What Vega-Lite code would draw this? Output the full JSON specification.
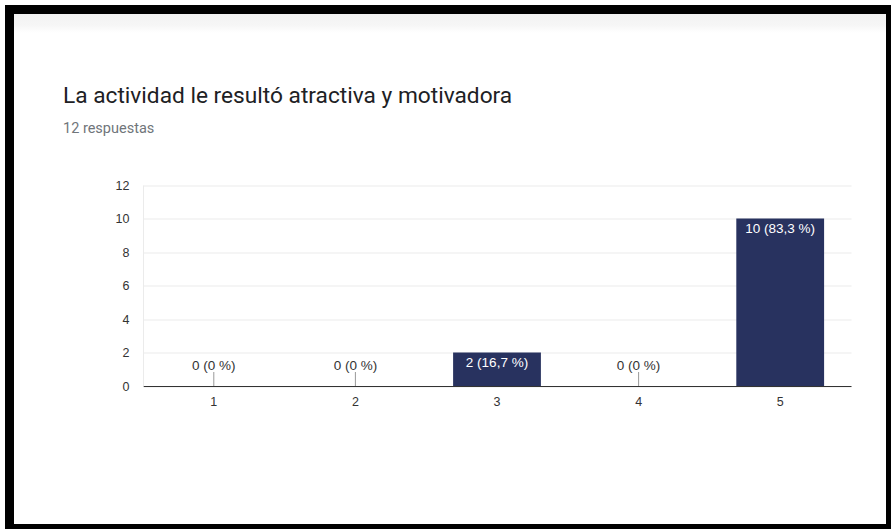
{
  "$schema": "https://vega.github.io/schema/vega-lite/v6.json",
  "width": 881,
  "height": 519,
  "autosize": {"type": "none"},
  "padding": {"left": 9.5, "top": 9.5, "right": 0, "bottom": 0},
  "background": "#ffffff",
  "title": {
    "text": "La actividad le resultó atractiva y motivadora",
    "subtitle": "12 respuestas",
    "anchor": "start",
    "frame": "group",
    "font": "Roboto",
    "fontSize": 22.7,
    "fontWeight": "normal",
    "color": "#202124",
    "subtitleFont": "Roboto",
    "subtitleFontSize": 14.5,
    "subtitleColor": "#70757a",
    "subtitlePadding": 14,
    "dx": 53.5,
    "dy": 130
  },
  "config": {
    "view": {
      "stroke": "#000000",
      "strokeWidth": 9,
      "fill": {
        "gradient": "linear",
        "x1": 0, "y1": 0, "x2": 0, "y2": 1,
        "stops": [
          {"offset": 0, "color": "#f1f1f1"},
          {"offset": 0.03, "color": "#f6f6f6"},
          {"offset": 0.045, "color": "#ffffff"},
          {"offset": 1, "color": "#ffffff"}
        ]
      }
    }
  },
  "data": {
    "values": [
      {"option": "1", "count": 0, "label": "0 (0 %)"},
      {"option": "2", "count": 0, "label": "0 (0 %)"},
      {"option": "3", "count": 2, "label": "2 (16,7 %)"},
      {"option": "4", "count": 0, "label": "0 (0 %)"},
      {"option": "5", "count": 10, "label": "10 (83,3 %)"}
    ]
  },
  "encoding": {
    "x": {
      "field": "option",
      "type": "nominal",
      "sort": null,
      "scale": {"range": [133.5, 841.5], "paddingInner": 0.38, "paddingOuter": 0.19},
      "axis": {
        "orient": "bottom",
        "offset": -142.5,
        "title": null,
        "labelAngle": 0,
        "ticks": false,
        "grid": false,
        "domainColor": "#333333",
        "labelPadding": 9,
        "labelFont": "Liberation Sans",
        "labelFontSize": 12.5,
        "labelColor": "#333333"
      }
    },
    "y": {
      "field": "count",
      "type": "quantitative",
      "scale": {"domain": [0, 12], "range": [376.5, 175.5], "nice": false, "zero": true},
      "axis": {
        "orient": "left",
        "offset": -133.5,
        "title": null,
        "values": [0, 2, 4, 6, 8, 10, 12],
        "ticks": false,
        "grid": true,
        "gridColor": "#ebebeb",
        "domainColor": "#ebebeb",
        "labelPadding": 14,
        "labelFont": "Liberation Sans",
        "labelFontSize": 12.5,
        "labelColor": "#333333"
      }
    }
  },
  "layer": [
    {
      "mark": {"type": "bar", "color": "#28325f"}
    },
    {
      "transform": [{"filter": "datum.count === 0"}],
      "mark": {"type": "rule", "color": "#999999", "strokeWidth": 1, "y2Offset": -14},
      "encoding": {"y2": {"field": "count"}}
    },
    {
      "transform": [{"filter": "datum.count === 0"}],
      "mark": {"type": "text", "font": "Liberation Sans", "fontSize": 13.5, "color": "#333333", "baseline": "middle", "dy": -20},
      "encoding": {"text": {"field": "label"}}
    },
    {
      "transform": [{"filter": "datum.count > 0"}],
      "mark": {"type": "text", "font": "Liberation Sans", "fontSize": 13.5, "color": "#ffffff", "baseline": "middle", "dy": 10.5},
      "encoding": {"text": {"field": "label"}}
    }
  ]
}
